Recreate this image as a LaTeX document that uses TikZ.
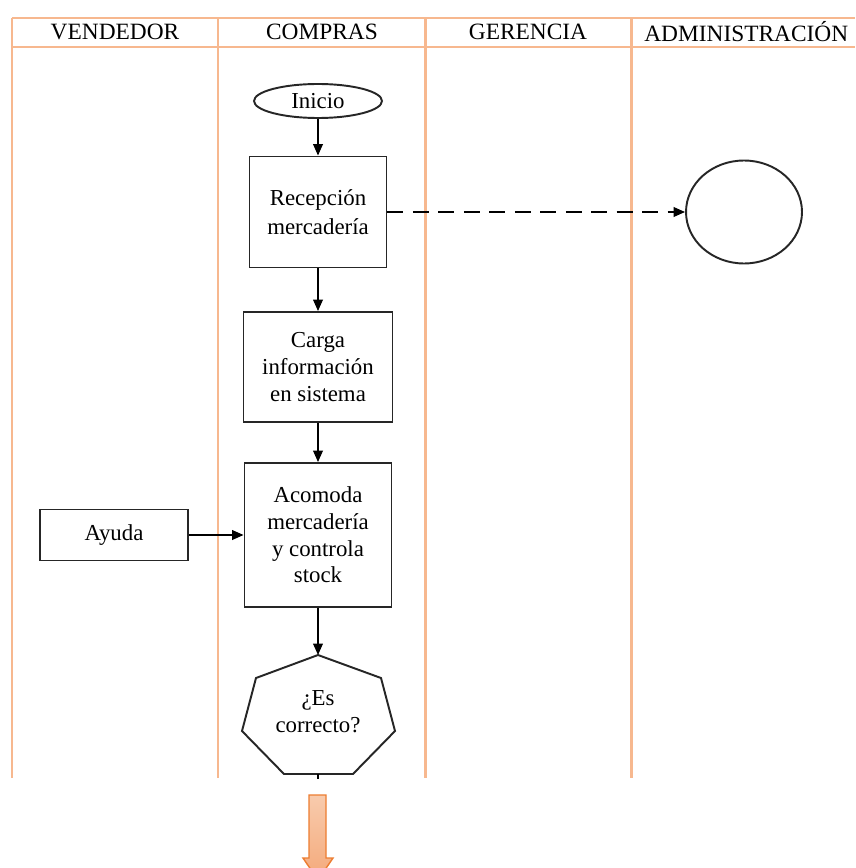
\documentclass[tikz,border=0pt]{standalone}
\usepackage{fontspec}
\setmainfont{Liberation Serif}
\usetikzlibrary{arrows.meta,shapes.geometric}
\definecolor{lane}{HTML}{F7B88F}
\definecolor{arrtop}{HTML}{F8CBAD}
\definecolor{arrbot}{HTML}{F4A97A}
\definecolor{arrdraw}{HTML}{ED7D31}
\tikzset{
  lanel/.style={draw=lane, line width=1.7pt},
  hdr/.style={font=\fontsize{13.3}{15}\selectfont, inner sep=0pt},
  proc/.style={draw=black!85, line width=1.1pt, fill=white, align=center,
    font=\fontsize{13}{15.2}\selectfont, inner sep=0pt},
  term/.style={proc, ellipse},
  flow/.style={-{Triangle[length=6.5pt,width=5.5pt]}, line width=0.9pt},
  dashflow/.style={flow, dash pattern=on 9pt off 5.5pt},
  bigarrow/.style={draw=arrdraw, line width=0.8pt, top color=arrtop, bottom color=arrbot},
}
\begin{document}
\begin{tikzpicture}[x=0.02cm,y=-0.02cm]
\clip (0,0) rectangle (855,868);
\fill[white] (0,0) rectangle (855,868);
% lanes
\draw[lanel] (12,18) -- (855,18);
\draw[lanel] (12,47) -- (855,47);
\foreach \x in {12,218,425,631} \draw[lanel] (\x,18) -- (\x,778);
% headers
\node[hdr] (hv) at (115,32) {VENDEDOR};
\node[hdr] (hc) at (322,32) {COMPRAS};
\node[hdr] (hg) at (528,32) {GERENCIA};
\node[hdr, anchor=west] (ha) at (644,32) {ADMINISTRACIÓN};
% nodes
\node[term, minimum width=2.56cm, minimum height=0.68cm] (inicio) at (318,101) {Inicio};
\node[proc, minimum width=2.74cm, minimum height=2.22cm] (recep) at (318,212) {Recepción\\[1.2pt]mercadería};
\node[proc, minimum width=2.98cm, minimum height=2.2cm] (carga) at (318,367) {Carga\\información\\en sistema};
\node[proc, minimum width=2.94cm, minimum height=2.88cm] (acom) at (318,535) {Acomoda\\mercadería\\y controla\\stock};
\node[proc, minimum width=2.96cm, minimum height=1.02cm] (ayuda) at (114,535) {Ayuda};
\node[draw=black!85, line width=1.1pt, ellipse, minimum width=2.32cm, minimum height=2.06cm] (circ) at (744,212) {};
% heptagon decision
\coordinate (hT) at (318,655);
\coordinate (hB) at (318,774);
\draw[black!85, line width=1.1pt, fill=white] (hT) -- (381,678) -- (395,731) -- (353,774) -- (284,774) -- (242,731) -- (256,678) -- cycle;
\node[align=center, font=\fontsize{13}{15.2}\selectfont, inner sep=0pt] (dec) at (318,712) {¿Es\\correcto?};
% connectors
\draw[flow] (inicio) -- (recep);
\draw[flow] (recep) -- (carga);
\draw[flow] (carga) -- (acom);
\draw[flow] (acom) -- (hT);
\draw[flow] (ayuda) -- (acom);
\draw[dashflow] (recep) -- (circ);
\coordinate (stubend) at (318,779);
\draw[line width=0.9pt] (hB) -- (stubend);
% big orange arrow
\draw[bigarrow] (309,795) -- (326,795) -- (326,858) -- (333,858) -- (318,880) -- (303,858) -- (309,858) -- cycle;
\end{tikzpicture}
\end{document}
